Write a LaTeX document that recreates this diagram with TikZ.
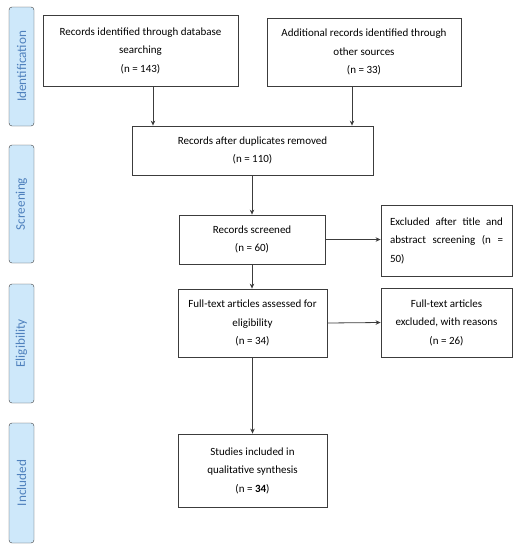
\documentclass[tikz,border=0pt]{standalone}
\usepackage{fontspec}
\setmainfont{Carlito}
\usepackage{tikz}
\usetikzlibrary{calc, arrows.meta}
\definecolor{stagefill}{RGB}{206,232,250}
\definecolor{stagetext}{RGB}{79,129,189}
\definecolor{boxline}{RGB}{60,60,60}
\tikzset{
  stage box/.style={draw=boxline, fill=stagefill, rounded corners=3pt, rotate=90,
    minimum height=25pt, inner sep=0pt, text=stagetext, font=\fontsize{13.2}{15}\selectfont},
  flow box/.style={draw=boxline, fill=white, line width=0.8pt, inner sep=2pt, align=center,
    font=\fontsize{11}{18.5}\selectfont},
  flow arrow/.style={-{Stealth[length=5pt,width=4.5pt]}, line width=0.8pt, boxline},
}
\begin{document}
\begin{tikzpicture}[x=1pt, y=-1pt]
  \useasboundingbox (0,0) rectangle (520,550);
  % phases on the left
  \node[stage box, minimum width=119pt] (stageid) at (21.5,66.5) {Identification};
  \node[stage box, minimum width=118pt] (stagesc) at (21.5,204) {Screening};
  \node[stage box, minimum width=119pt] (stageel) at (21.5,343.5) {Eligibility};
  \node[stage box, minimum width=120pt] (stagein) at (21.5,483) {Included};
  % flow boxes
  \node[flow box, minimum width=195pt, minimum height=71pt] (dbrec) at (140.5,50.5)
    {Records identified through database\\searching\\(n = 143)};
  \node[flow box, minimum width=194pt, minimum height=68pt] (otherrec) at (364,52)
    {Additional records identified through\\other sources\\(n = 33)};
  \node[flow box, minimum width=241pt, minimum height=49pt] (dedup) at (252.5,150.5)
    {Records after duplicates removed\\(n = 110)};
  \node[flow box, minimum width=146pt, minimum height=49pt] (screened) at (252,239.5)
    {Records screened\\(n = 60)};
  \node[flow box, minimum width=131pt, minimum height=71pt, align=left] (exclscr) at (446.5,240.5)
    {\makebox[113pt][s]{Excluded after title and}\\\makebox[113pt][s]{abstract screening (n =}\\50)};
  \node[flow box, minimum width=149pt, minimum height=68pt] (fulltext) at (252.5,323)
    {Full-text articles assessed for\\eligibility\\(n = 34)};
  \node[flow box, minimum width=131pt, minimum height=69pt] (exclfull) at (446.5,322.5)
    {Full-text articles\\excluded, with reasons\\(n = 26)};
  \node[flow box, minimum width=149pt, minimum height=73pt] (included) at (252.5,470.5)
    {Studies included in\\qualitative synthesis\\(n = \textbf{34})};
  % connectors
  \draw[flow arrow] ([xshift=12.5pt]dbrec.south) -- ([xshift=12.5pt]dbrec.south |- dedup.north);
  \draw[flow arrow] ([xshift=-12pt]otherrec.south) -- ([xshift=-12pt]otherrec.south |- dedup.north);
  \draw[flow arrow] (dedup.south -| screened.north) -- (screened.north);
  \draw[flow arrow] (screened.south) -- (screened.south |- fulltext.north);
  \draw[flow arrow] (screened.east) -- (screened.east -| exclscr.west);
  \draw[flow arrow] (fulltext.east) -- (exclfull.west);
  \draw[flow arrow] (fulltext.south) -- (included.north);
\end{tikzpicture}
\end{document}
